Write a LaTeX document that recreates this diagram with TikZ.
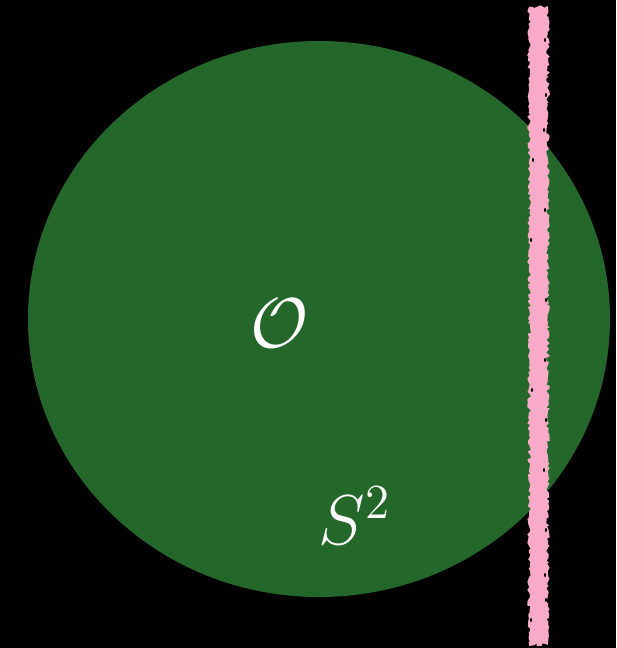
\documentclass[tikz,border=0pt]{standalone}
\usetikzlibrary{decorations.pathmorphing}
\definecolor{diskgreen}{RGB}{35,104,42}
\definecolor{chalkpink}{RGB}{249,170,200}
\begin{document}
\begin{tikzpicture}[x=1pt,y=-1pt,
  disk/.style={fill=diskgreen,draw=none},
  chalk/.style={fill=chalkpink,draw=none,decorate,decoration={random steps,segment length=2.5pt,amplitude=1.8pt}},
  lbl/.style={text=white,inner sep=0pt,font=\huge,scale=3.4}]
\fill[black] (0,0) rectangle (616,648);
\useasboundingbox (0,0) rectangle (616,648);
\path[disk] (319,319) ellipse [x radius=291, y radius=278];
\pgfmathsetseed{7}
\path[chalk] (529,7) -- (548,7) -- (548,645) -- (529,645) -- cycle;
\foreach \yy/\xx in {40/545,95/546,130/544,210/545,240/531,300/546,360/545,420/546,470/544,530/546,575/545,600/546,620/531,160/533,390/532}
  \fill[black] (\xx,\yy) ellipse [x radius=1, y radius=2];
\node[lbl] (O) at (280,323) {$\mathcal{O}$};
\node[lbl] (S) at (355,516) {$S^2$};
\end{tikzpicture}
\end{document}
